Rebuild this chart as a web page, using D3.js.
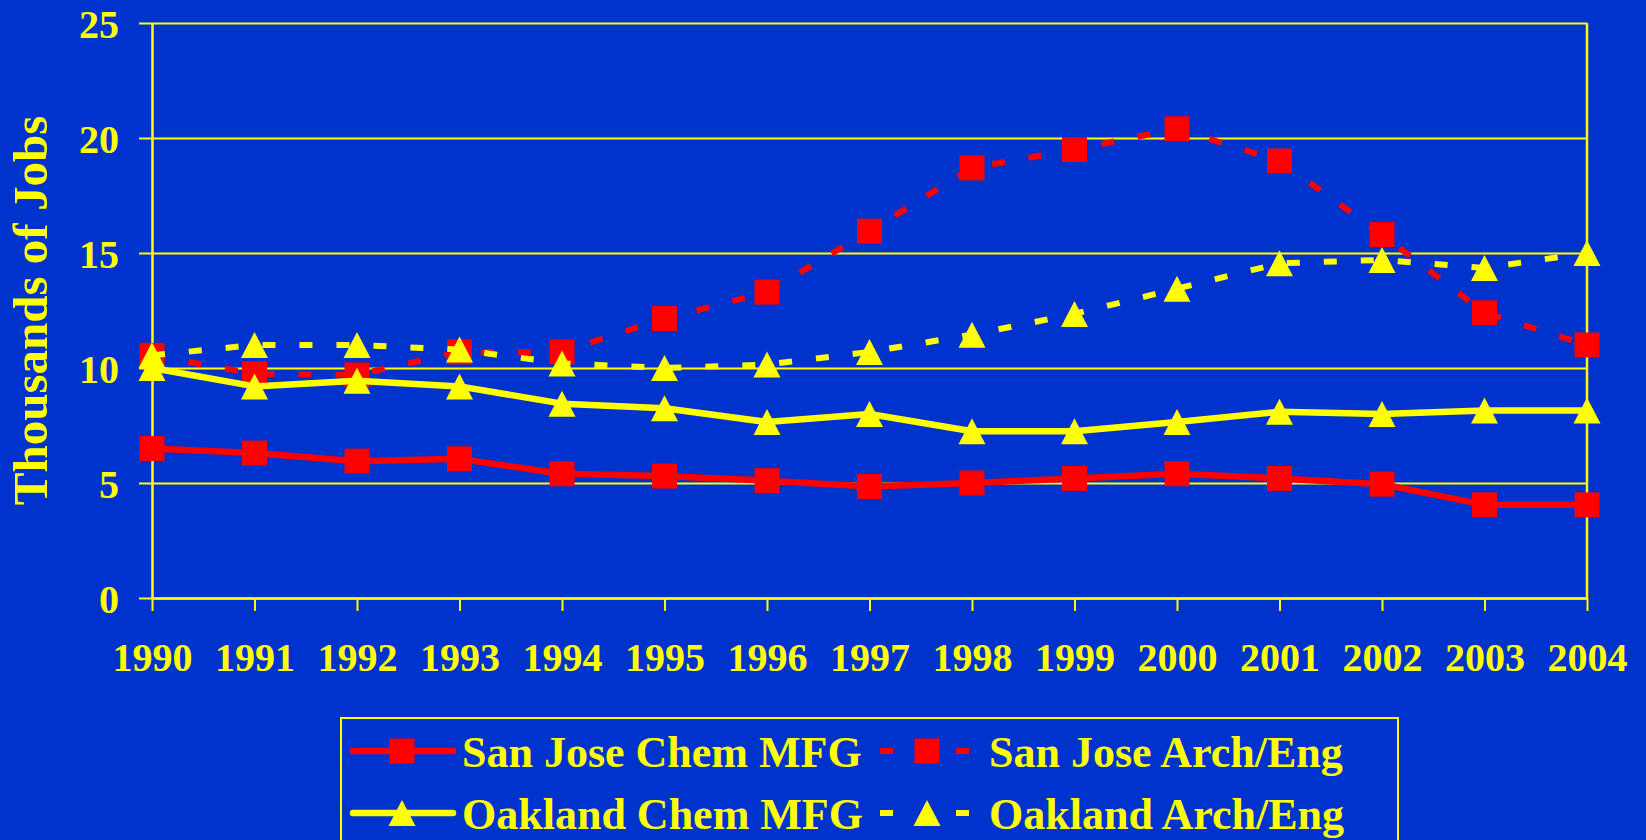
<!DOCTYPE html>
<html>
<head>
<meta charset="utf-8">
<script src="https://cdn.jsdelivr.net/npm/d3@7"></script>
<style>
  html, body { margin: 0; padding: 0; background: #0033cc; }
  svg { display: block; }
</style>
</head>
<body>
<div id="chart"></div>
<script>
const width = 1646;
const height = 840;

// data (thousands of jobs)
const years = [1990, 1991, 1992, 1993, 1994, 1995, 1996, 1997, 1998, 1999, 2000, 2001, 2002, 2003, 2004];
const yTicks = [0, 5, 10, 15, 20, 25];
const sanJoseChem = [6.5, 6.3, 5.95, 6.05, 5.4, 5.3, 5.1, 4.85, 5.0, 5.2, 5.4, 5.2, 4.95, 4.05, 4.05];
const sanJoseArch = [10.55, 9.75, 9.7, 10.7, 10.7, 12.15, 13.3, 15.95, 18.7, 19.5, 20.4, 19.0, 15.8, 12.4, 11.0];
const oaklandChem = [10.0, 9.2, 9.45, 9.2, 8.45, 8.25, 7.65, 8.0, 7.25, 7.25, 7.65, 8.1, 8.0, 8.15, 8.15];
const oaklandArch = [10.55, 11.0, 11.0, 10.8, 10.2, 10.0, 10.15, 10.7, 11.45, 12.35, 13.45, 14.55, 14.7, 14.35, 15.0];
const seriesNames = ["San Jose Chem MFG", "San Jose Arch/Eng", "Oakland Chem MFG", "Oakland Arch/Eng"];

const bg = "#0033cc";
const yellow = "#ffff00";
const red = "#ff0000";
const font = "'Liberation Serif', 'Times New Roman', serif";

const series = [
  { name: seriesNames[0], values: sanJoseChem, color: red, dashed: false, marker: "square" },
  { name: seriesNames[1], values: sanJoseArch, color: red, dashed: true, marker: "square" },
  { name: seriesNames[2], values: oaklandChem, color: yellow, dashed: false, marker: "triangle" },
  { name: seriesNames[3], values: oaklandArch, color: yellow, dashed: true, marker: "triangle" }
];

const x = d3.scaleLinear().domain([1990, 2004]).range([152, 1587]);
const y = d3.scaleLinear().domain([0, 25]).range([598, 23]);

const svg = d3.select("#chart").append("svg")
  .attr("width", width)
  .attr("height", height)
  .attr("font-family", font)
  .attr("font-weight", "bold");

svg.append("rect")
  .attr("width", width)
  .attr("height", height)
  .attr("fill", bg);

// gridlines
svg.append("g")
  .attr("transform", `translate(${x.range()[0]},0)`)
  .call(d3.axisLeft(y).tickValues(yTicks).tickSizeInner(-(x.range()[1] - x.range()[0])).tickSizeOuter(0).tickFormat(""))
  .call(g => g.select(".domain").remove())
  .call(g => g.selectAll("line").attr("stroke", yellow).attr("stroke-width", 2));

// right border
svg.append("line")
  .attr("x1", x(2004)).attr("x2", x(2004))
  .attr("y1", y(25)).attr("y2", y(0))
  .attr("stroke", yellow)
  .attr("stroke-width", 2.5);

// y axis
svg.append("g")
  .attr("transform", `translate(${x.range()[0]},0)`)
  .call(d3.axisLeft(y).tickValues(yTicks).tickSize(13).tickSizeOuter(0).tickPadding(20))
  .call(g => g.select(".domain").attr("stroke", yellow).attr("stroke-width", 2.5))
  .call(g => g.selectAll(".tick line").attr("stroke", yellow).attr("stroke-width", 2))
  .call(g => g.selectAll(".tick text")
    .attr("fill", yellow)
    .attr("font-family", font)
    .attr("font-weight", "bold")
    .attr("font-size", 40)
    .attr("dy", "0.35em"));

// x axis
svg.append("g")
  .attr("transform", `translate(0,${y(0)})`)
  .call(d3.axisBottom(x).tickValues(years).tickSize(13).tickSizeOuter(0).tickFormat(d3.format("d")))
  .call(g => g.select(".domain").attr("stroke", yellow).attr("stroke-width", 2.5))
  .call(g => g.selectAll(".tick line").attr("stroke", yellow).attr("stroke-width", 2))
  .call(g => g.selectAll(".tick text")
    .attr("fill", yellow)
    .attr("font-family", font)
    .attr("font-weight", "bold")
    .attr("font-size", 40)
    .attr("y", 73)
    .attr("dy", 0));

// y title
svg.append("text")
  .attr("transform", `translate(47,${(y(0) + y(25)) / 2}) rotate(-90)`)
  .attr("text-anchor", "middle")
  .attr("fill", yellow)
  .attr("font-size", 49)
  .text("Thousands of Jobs");

const squareSize = 25;
const triW = 27, triH = 26;

function drawMarker(g, type, color, cx, cy) {
  if (type === "square") {
    g.append("rect")
      .attr("x", cx - squareSize / 2)
      .attr("y", cy - squareSize / 2)
      .attr("width", squareSize)
      .attr("height", squareSize)
      .attr("fill", color);
  } else {
    g.append("path")
      .attr("d", `M${cx},${cy - triH / 2}L${cx + triW / 2},${cy + triH / 2}L${cx - triW / 2},${cy + triH / 2}Z`)
      .attr("fill", color);
  }
}

const line = d3.line()
  .x((d, i) => x(years[i]))
  .y(d => y(d));

series.forEach(s => {
  const g = svg.append("g");
  g.append("path")
    .datum(s.values)
    .attr("fill", "none")
    .attr("stroke", s.color)
    .attr("stroke-width", s.dashed ? 6 : 6.5)
    .attr("stroke-dasharray", s.dashed ? "13,24" : null)
    .attr("stroke-linejoin", "round")
    .attr("d", line);
  s.values.forEach((v, i) => drawMarker(g, s.marker, s.color, x(years[i]), y(v)));
});

// legend
const legend = svg.append("g");
legend.append("rect")
  .attr("x", 341)
  .attr("y", 718)
  .attr("width", 1057)
  .attr("height", 160)
  .attr("fill", "none")
  .attr("stroke", yellow)
  .attr("stroke-width", 2);

const legendCols = [353, 880];
const legendRows = [751, 813];

series.forEach((s, i) => {
  const col = i % 2;
  const row = Math.floor(i / 2);
  const lx = legendCols[col];
  const ly = legendRows[row];
  const g = legend.append("g");
  if (s.dashed) {
    g.append("line")
      .attr("x1", lx).attr("x2", lx + 13)
      .attr("y1", ly).attr("y2", ly)
      .attr("stroke", s.color).attr("stroke-width", 6);
    g.append("line")
      .attr("x1", lx + 76).attr("x2", lx + 89)
      .attr("y1", ly).attr("y2", ly)
      .attr("stroke", s.color).attr("stroke-width", 6);
    drawMarker(g, s.marker, s.color, lx + 47, ly);
  } else {
    g.append("line")
      .attr("x1", lx).attr("x2", lx + 100)
      .attr("y1", ly).attr("y2", ly)
      .attr("stroke", s.color).attr("stroke-width", 6.5)
      .attr("stroke-linecap", "round");
    drawMarker(g, s.marker, s.color, lx + 49, ly);
  }
  g.append("text")
    .attr("x", lx + 109)
    .attr("y", ly + 16)
    .attr("fill", yellow)
    .attr("font-size", 44)
    .text(s.name);
});
</script>
</body>
</html>
